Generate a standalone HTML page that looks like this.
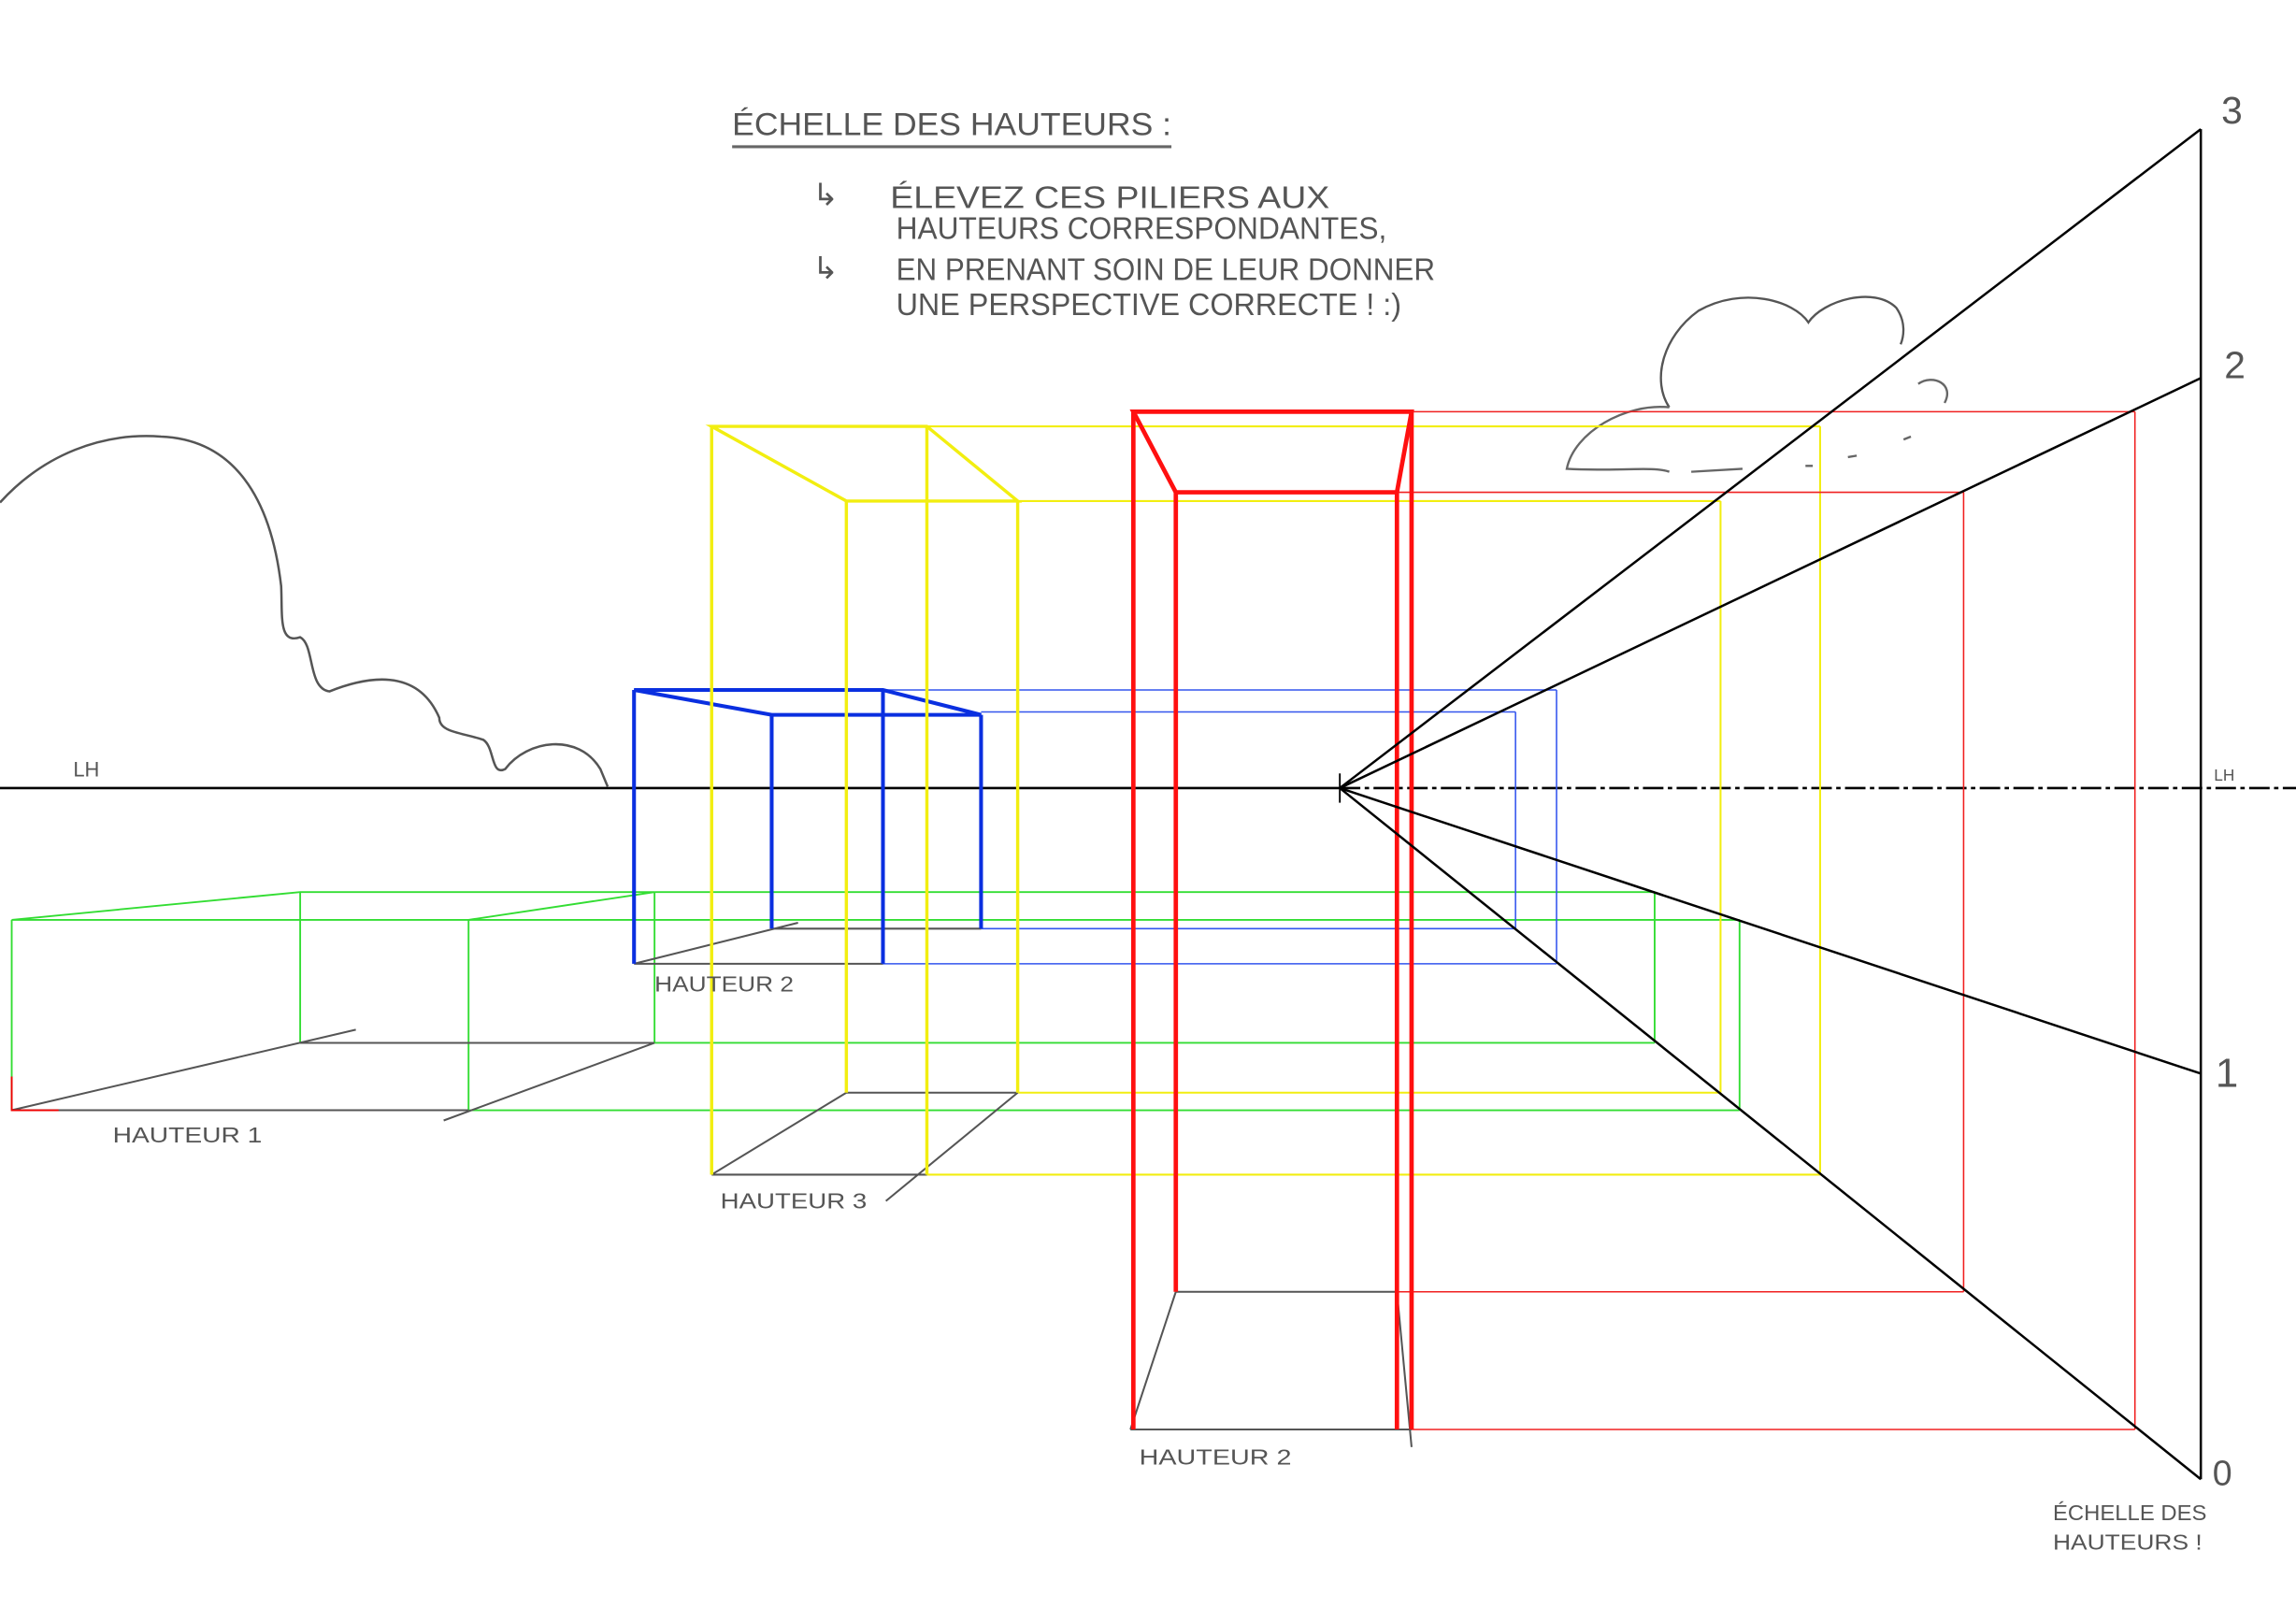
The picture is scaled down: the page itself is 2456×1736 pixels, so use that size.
<!DOCTYPE html>
<html><head><meta charset="utf-8"><style>
html,body{margin:0;padding:0;background:#fff;}
svg{display:block;}
text{font-family:"Liberation Sans",sans-serif;fill:#555;}
</style></head><body>
<svg width="2456" height="1736" viewBox="0 0 1568 1108" xmlns="http://www.w3.org/2000/svg">
<rect width="1568" height="1108" fill="#fff"/>
<path d="M0,343 C30,310 70,295 110,298 C160,300 185,340 192,400 C193,420 190,440 205,435 C215,440 210,470 225,472 C250,462 285,455 300,490 C300,500 315,500 330,505 C338,510 335,530 345,525 C360,505 395,500 410,525 L415,537" fill="none" stroke="#555" stroke-width="1.6"/>
<path d="M1140,278 C1128,260 1135,230 1160,212 C1190,195 1225,205 1235,220 C1245,205 1280,195 1295,210 C1302,220 1300,230 1298,235" fill="none" stroke="#555" stroke-width="1.5"/>
<path d="M1140,278 C1110,275 1075,295 1070,320 C1100,322 1130,318 1140,322 M1155,322 L1190,320 M1310,262 C1320,255 1335,262 1328,275 M1233,318 L1238,318 M1262,312 L1268,311 M1300,300 L1305,298" fill="none" stroke="#666" stroke-width="1.5"/>
<line x1="0" y1="538" x2="915" y2="538" stroke="#000" stroke-width="1.6"/>
<line x1="915" y1="538" x2="1568" y2="538" stroke="#000" stroke-width="1.6" stroke-dasharray="14,3,3,3"/>
<line x1="915" y1="528" x2="915" y2="548" stroke="#000" stroke-width="1.2"/>
<text x="50" y="530" font-size="14">LH</text>
<text x="1512" y="533" font-size="11">LH</text>
<g stroke="#33dd33" stroke-width="1.2" fill="none">
<path d="M8,628 L205,609 L447,609 L320,628 Z"/>
<path d="M8,628 V758 M205,609 V712 M320,628 V758 M447,609 V712"/>
<path d="M320,628 H1188 M447,609 H1130 M447,712 H1130 M320,758 H1188 M1130,609 V712 M1188,628 V758"/>
</g>
<g stroke="#555" stroke-width="1.3"><path d="M8,758 H320 M205,712 H447 M8,758 L243,703 M303,765 L447,712"/></g>
<path d="M8,735 V758 H40" stroke="#e00" stroke-width="1.2" fill="none"/>
<g stroke="#3355ee" stroke-width="1" fill="none">
<path d="M603,471 H1063 M670,486 H1035 M670,634 H1035 M603,658 H1063 M1035,486 V634 M1063,471 V658"/>
</g>
<g stroke="#555" stroke-width="1.3"><path d="M527,634 H670 M433,658 H603 M433,658 L545,630"/></g>
<g stroke="#0a2fe0" stroke-width="2.6" fill="none">
<path d="M433,471 L603,471 L670,488 L527,488 Z"/>
<path d="M433,471 V658 M527,488 V634 M603,471 V658 M670,488 V634"/>
</g>
<g stroke="#f2ee10" stroke-width="1.3" fill="none">
<path d="M633,291 H1243 M695,342 H1175 M695,746 H1175 M633,802 H1243 M1175,342 V746 M1243,291 V802"/>
</g>
<g stroke="#555" stroke-width="1.3"><path d="M578,746 H695 M486,802 H633 M486,802 L578,746 M605,820 L695,746"/></g>
<g stroke="#f2ee10" stroke-width="2.2" fill="none">
<path d="M486,291 L633,291 L695,342 L578,342 Z"/>
<path d="M486,291 V802 M633,291 V802 M578,342 V746 M695,342 V746"/>
</g>
<g stroke="#f02020" stroke-width="1" fill="none">
<path d="M964,281 H1458 M954,336 H1341 M954,882 H1341 M964,976 H1458 M1341,336 V882 M1458,281 V976"/>
</g>
<g stroke="#555" stroke-width="1.3"><path d="M803,882 H954 M772,976 H964 M772,976 L803,882 M964,988 L954,882"/></g>
<g stroke="#ff1010" stroke-width="3" fill="none">
<path d="M774,281 L964,281 L954,336 L803,336 Z"/>
<path d="M774,281 V976 M803,336 V882 M954,336 V976 M964,281 V976"/>
</g>
<g stroke="#000" stroke-width="1.6" fill="none">
<line x1="1503" y1="88" x2="1503" y2="1010"/>
<line x1="915" y1="538" x2="1503" y2="88"/>
<line x1="915" y1="538" x2="1503" y2="258"/>
<line x1="915" y1="538" x2="1503" y2="733"/>
<line x1="915" y1="538" x2="1503" y2="1010"/>
</g>
<text x="1517" y="84" font-size="26">3</text>
<text x="1519" y="258" font-size="26">2</text>
<text x="1513" y="742" font-size="28">1</text>
<text x="1511" y="1014" font-size="24">0</text>
<text x="500" y="92" font-size="22" textLength="300" lengthAdjust="spacingAndGlyphs">ÉCHELLE DES HAUTEURS :</text>
<line x1="500" y1="100" x2="800" y2="100" stroke="#666" stroke-width="2"/>
<g font-size="21">
<text x="555" y="140">↳</text>
<text x="608" y="142" textLength="300" lengthAdjust="spacingAndGlyphs">ÉLEVEZ CES PILIERS AUX</text>
<text x="612" y="163" textLength="335" lengthAdjust="spacingAndGlyphs">HAUTEURS CORRESPONDANTES,</text>
<text x="555" y="190">↳</text>
<text x="612" y="191" textLength="368" lengthAdjust="spacingAndGlyphs">EN PRENANT SOIN DE LEUR DONNER</text>
<text x="612" y="215" textLength="345" lengthAdjust="spacingAndGlyphs">UNE PERSPECTIVE CORRECTE !  :)</text>
</g>
<g font-size="15">
<text x="77" y="780" textLength="102" lengthAdjust="spacingAndGlyphs">HAUTEUR 1</text>
<text x="447" y="677" textLength="95" lengthAdjust="spacingAndGlyphs">HAUTEUR 2</text>
<text x="492" y="825" textLength="100" lengthAdjust="spacingAndGlyphs">HAUTEUR 3</text>
<text x="778" y="1000" textLength="104" lengthAdjust="spacingAndGlyphs">HAUTEUR 2</text>
<text x="1402" y="1038" textLength="105" lengthAdjust="spacingAndGlyphs">ÉCHELLE DES</text>
<text x="1402" y="1058" textLength="102" lengthAdjust="spacingAndGlyphs">HAUTEURS !</text>
</g>
</svg>
</body></html>
